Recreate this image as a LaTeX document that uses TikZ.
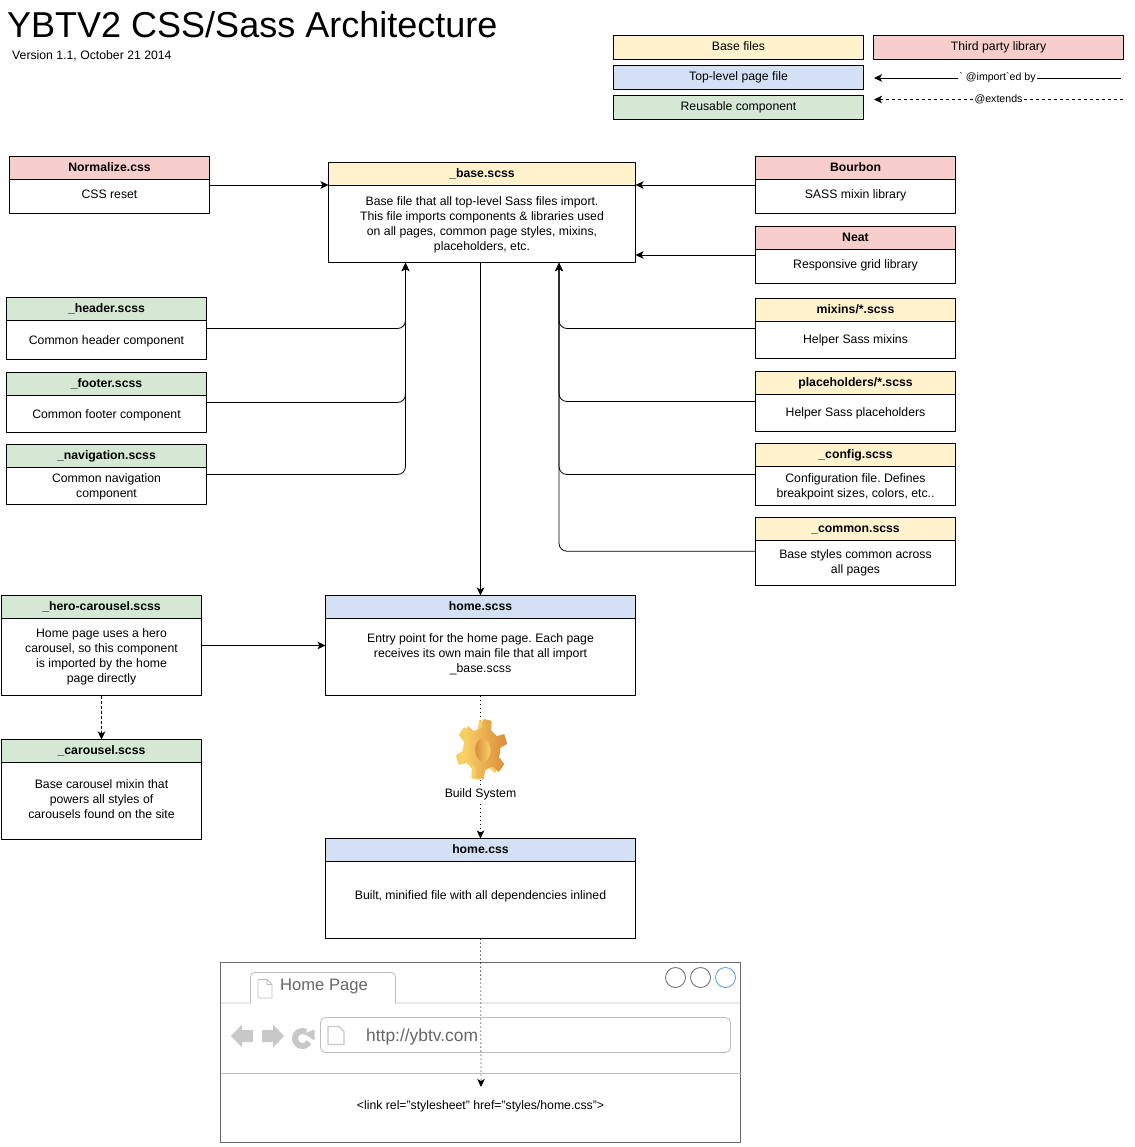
\documentclass[tikz,border=0pt]{standalone}
\usepackage{fontspec}
\setmainfont{Liberation Sans}
\usetikzlibrary{arrows.meta,calc}
\definecolor{baseyellow}{HTML}{FFF2CC}
\definecolor{pageblue}{HTML}{D4E1F5}
\definecolor{partsgreen}{HTML}{D5E8D4}
\definecolor{libred}{HTML}{F8CECC}
\definecolor{chromegray}{HTML}{BDBDBD}
\definecolor{chromeicon}{HTML}{C8C8C8}
\definecolor{chrometext}{HTML}{666666}
\definecolor{gearside}{HTML}{F8CE62}
\definecolor{gearlight}{HTML}{FBD668}
\definecolor{geardark}{HTML}{D98A38}
\newcommand{\gearoutline}{(14:21) \foreach \a in {40,100,...,340}{ -- (\a-17:21) -- (\a-10:30) -- (\a+10:30) -- (\a+17:21)} -- cycle}
\tikzset{
	filebox/.style={draw, anchor=north west, inner sep=0pt, outer sep=0pt, line width=.9pt},
	titlebox/.style={filebox, text height=9pt, text depth=2.5pt},
	filetext/.style={align=center, inner sep=0pt},
	keybox/.style={draw, minimum width=250pt, minimum height=24pt, inner sep=0pt, outer sep=0pt, line width=.9pt, text height=9pt, text depth=3pt},
	keylabel/.style={fill=white, inner xsep=1pt, inner ysep=1pt, font=\fontsize{10.6}{12}\selectfont},
	wire/.style={->, line width=.8pt},
	bentwire/.style={wire, rounded corners=8pt},
	dotwire/.style={wire, dash pattern=on 1pt off 3pt},
	tabline/.style={draw=chromegray, line width=.8pt},
}
\begin{document}
\frenchspacing
\begin{tikzpicture}[x=1pt, y=-1pt, font=\fontsize{12.25}{15}\selectfont, line join=round, >={Stealth[length=8pt,width=7.5pt,inset=2pt]}]
	\useasboundingbox (0,0) rectangle (1134,1147);
	\node[anchor=west, inner sep=0pt, font=\fontsize{36}{40}\selectfont] (title) at (7,25) {YBTV2 CSS/Sass Architecture};
	\node[anchor=west, inner sep=0pt] (version) at (12,56) {Version 1.1, October 21 2014};
	% legend
	\node[keybox, fill=baseyellow] (keybase) at (738.5,47.5) {Base files};
	\node[keybox, fill=pageblue] (keypage) at (738.5,77.5) {Top-level page file};
	\node[keybox, fill=partsgreen] (keypart) at (738.5,107.5) {Reusable component};
	\node[keybox, fill=libred] (keylib) at (998.5,47.5) {Third party library};
	\path
	(1121,78) coordinate (ImportR)
	(874,78) coordinate (ImportL)
	(1123,99.5) coordinate (ExtendR)
	(874,99.5) coordinate (ExtendL)
	(405.5,263) coordinate (BaseA)
	(559,263) coordinate (BaseB)
	;
	\draw[wire] (ImportR)--node[keylabel] {\textasciigrave{} @import\textasciigrave ed by}(ImportL);
	\draw[wire, dash pattern=on 3pt off 3pt] (ExtendR)--node[keylabel] {@extends}(ExtendL);
	% file boxes
	\foreach \n/\c/\x/\y/\w/\h/\t/\l/\b in {
		normalize/libred/9.5/156.5/200/57/Normalize.css/194/{CSS reset},
		base/baseyellow/328.5/162.5/307/100/\_base.scss/224.5/{Base file that all top-level Sass files import.\\This file imports components \& libraries used\\on all pages, common page styles, mixins,\\placeholders, etc.},
		bourbon/libred/755.5/156.5/200/57/Bourbon/195/{SASS mixin library},
		neat/libred/755.5/226.5/200/57/Neat/265/{Responsive grid library},
		header/partsgreen/6.5/297.5/200/62/\_header.scss/341/{Common header component},
		footer/partsgreen/6.5/372.5/200/60/\_footer.scss/415/{Common footer component},
		navigation/partsgreen/6.5/444.5/200/60/\_navigation.scss/486.5/{Common navigation\\component},
		mixins/baseyellow/755.5/298.5/200/60/{mixins/*.scss}/340/{Helper Sass mixins},
		placeholders/baseyellow/755.5/371.5/200/60/{placeholders/*.scss}/413/{Helper Sass placeholders},
		config/baseyellow/755.5/443.5/200/62/\_config.scss/486.5/{Configuration file. Defines\\breakpoint sizes, colors, etc..},
		common/baseyellow/755.5/517.5/200/67.5/\_common.scss/562.5/{Base styles common across\\all pages},
		hero/partsgreen/1.5/595.5/200/100/\_hero-carousel.scss/656.5/{Home page uses a hero\\carousel, so this component\\is imported by the home\\page directly},
		carousel/partsgreen/1.5/739.5/200/100/\_carousel.scss/799/{Base carousel mixin that\\powers all styles of\\carousels found on the site},
		homescss/pageblue/325.5/595.5/310/100/home.scss/654/{Entry point for the home page. Each page\\receives its own main file that all import\\\_base.scss},
		homecss/pageblue/325.5/838.5/310/100/home.css/896/{Built, minified file with all dependencies inlined}%
	}{
		\node[filebox, minimum width=\w pt, minimum height=\h pt] (\n) at (\x,\y) {};
		\node[titlebox, fill=\c, minimum width=\w pt, minimum height=23pt] (\n T) at (\n.north west) {\textbf{\t}};
		\node[filetext] (\n B) at ($(\x,\l)+(\w/2,0)$) {\b};
	}
	% imports into the base file
	\draw[wire] (normalize)--(normalize -| base.west);
	\draw[wire] (bourbon)--(bourbon -| base.east);
	\draw[wire] (neat)--(neat -| base.east);
	\foreach \d in {header,footer,navigation}{
		\draw[bentwire] (\d.east) -| (BaseA);}
	\foreach \d in {mixins,placeholders,config,common}{
		\draw[bentwire] (\d.west) -| (BaseB);}
	\draw[wire] (base.south -| homescss.north)--(homescss.north);
	\draw[wire] (hero)--(homescss);
	\draw[wire, dash pattern=on 3pt off 2pt] (hero.south)--(carousel.north);
	\draw[dotwire] (homescss.south)--(homecss.north);
	% build gear
	\begin{scope}[shift={(483.5,749)}, xscale=.8]
		\fill[gearside, shift={(-5,1)}] \gearoutline;
		\path[left color=gearlight, right color=geardark] \gearoutline;
		\shade[left color=geardark, right color=gearlight, rotate=8] (-1,1) ellipse (9.5 and 11.5);
	\end{scope}
	\node[fill=white, inner xsep=0pt, inner ysep=1pt] (build) at (480.5,794) {Build System};
	% browser window
	\node[draw=chrometext, line width=.9pt, anchor=north west, outer sep=0pt, minimum width=520pt, minimum height=180pt, inner sep=0pt] (browser) at (220.5,962.5) {};
	\draw[tabline] (browser.west |- 0,1003) -- (250.5,1003) -- (250.5,978) [rounded corners=4pt] -- (250.5,972.5) -- (395.5,972.5) [sharp corners] -- (395.5,1003) -- (browser.east |- 0,1003);
	\draw[tabline] (browser.west |- 0,1073) -- (browser.east |- 0,1073);
	\draw[tabline, rounded corners=5pt] (320.5,1017.5) rectangle (730.5,1052.5);
	\foreach \x/\c in {675.5/chrometext,700.5/chrometext,725.5/cyan!60!blue!70}{
		\draw[draw=\c, line width=.8pt] (\x,977.5) circle (10);}
	\draw[tabline] (258,979.5) -- (267,979.5) -- (272,984.5) -- (272,998) -- (258,998) -- cycle (267,979.5) -- (267,984.5) -- (272,984.5);
	\draw[draw=chromeicon, line width=1.4pt] (328,1026.5) -- (339,1026.5) -- (344,1031.5) -- (344,1044.5) -- (328,1044.5) -- cycle;
	\node[anchor=west, inner sep=0pt, text=chrometext, font=\fontsize{16.6}{20}\selectfont] (tabname) at (280,987) {Home Page};
	\node[anchor=west, inner sep=0pt, text=chrometext, font=\fontsize{17.4}{20}\selectfont] (address) at (366,1037) {http://ybtv.com};
	\fill[chromeicon] (231,1036) -- (242,1024.5) -- (242,1030) -- (253,1030) -- (253,1042) -- (242,1042) -- (242,1047.5) -- cycle;
	\fill[chromeicon] (284,1036) -- (273,1024.5) -- (273,1030) -- (262,1030) -- (262,1042) -- (273,1042) -- (273,1047.5) -- cycle;
	\draw[chromeicon, line width=6pt] (309,1042.25) arc[start angle=30, end angle=300, radius=7.5];
	\fill[chromeicon] (304,1033.5) -- (314.5,1029.5) -- (314.5,1040.5) -- cycle;
	\node[inner sep=0pt] (linktag) at (480.5,1106) {<link rel="stylesheet" href="styles/home.css">};
	\coordinate (LinkTop) at (481,1087);
	\draw[dotwire] (homecss.south)--(LinkTop);
\end{tikzpicture}
\end{document}
